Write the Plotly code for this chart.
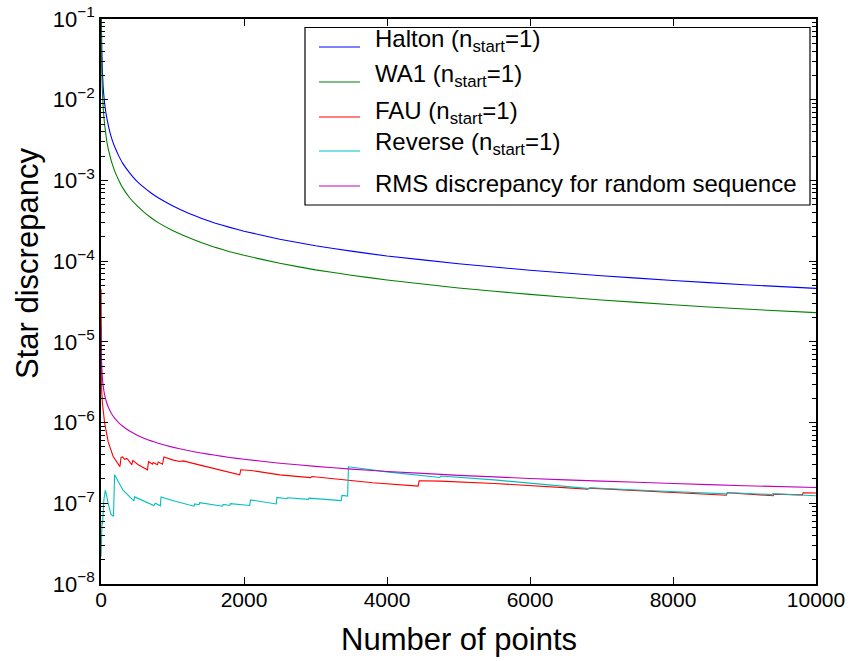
import plotly.graph_objects as go

# ---------------- data ----------------
n_smooth = [1, 2, 3, 5, 8, 12, 16, 20, 25, 30, 40, 50, 65, 80, 100, 120, 150,
            200, 250, 300, 400, 500, 600, 700, 800, 1000, 1200, 1400, 1600,
            1800, 2000, 2500, 3000, 3500, 4000, 5000, 6000, 7000, 8000, 9000,
            10000]

halton = [0.5, 0.3, 0.2, 0.1, 0.06, 0.04, 0.03, 0.022, 0.018, 0.0145, 0.0112,
          0.0092, 0.0072, 0.006, 0.0049, 0.0041, 0.0033, 0.0025, 0.002,
          0.00165, 0.00124, 0.00098, 8.2e-4, 7.0e-4, 6.1e-4, 4.85e-4, 4.0e-4,
          3.4e-4, 2.95e-4, 2.62e-4, 2.35e-4, 1.87e-4, 1.55e-4, 1.33e-4,
          1.16e-4, 9.3e-5, 7.7e-5, 6.6e-5, 5.75e-5, 5.1e-5, 4.6e-5]

wa1 = [0.3, 0.15, 0.1, 0.055, 0.033, 0.021, 0.016, 0.0125, 0.0100, 0.0082,
       0.0062, 0.0050, 0.0039, 0.0031, 0.0025, 0.0021, 0.00167, 0.00125,
       0.001, 8.2e-4, 6.1e-4, 4.9e-4, 4.05e-4, 3.45e-4, 3.0e-4, 2.4e-4,
       2.0e-4, 1.7e-4, 1.48e-4, 1.31e-4, 1.18e-4, 9.4e-5, 7.8e-5, 6.7e-5,
       5.85e-5, 4.65e-5, 3.87e-5, 3.3e-5, 2.88e-5, 2.55e-5, 2.3e-5]

rms_random = [1.57e-5, 1.11e-5, 9.06e-6, 7.02e-6, 5.55e-6, 4.53e-6, 3.93e-6,
              3.51e-6, 3.14e-6, 2.87e-6, 2.48e-6, 2.22e-6, 1.95e-6, 1.76e-6,
              1.57e-6, 1.43e-6, 1.28e-6, 1.11e-6, 9.93e-7, 9.06e-7, 7.85e-7,
              7.02e-7, 6.41e-7, 5.93e-7, 5.55e-7, 4.96e-7, 4.53e-7, 4.2e-7,
              3.93e-7, 3.7e-7, 3.51e-7, 3.14e-7, 2.87e-7, 2.65e-7, 2.48e-7,
              2.22e-7, 2.03e-7, 1.88e-7, 1.76e-7, 1.65e-7, 1.57e-7]

n_fau = [1, 2, 3, 5, 10, 20, 30, 50, 100, 170, 265, 280, 300, 330, 360, 380,
         430, 445, 520, 650, 665, 720, 730, 790, 800, 860, 880, 1000, 1100,
         1150, 1400, 1600, 1940, 1955, 2100, 2500, 2930, 2950, 3450, 3800,
         4435, 4450, 4750, 5500, 6810, 6830, 8745, 8760, 9400, 9410, 9810,
         9820, 10000]
fau = [4.5e-5, 1.6e-5, 7e-6, 3.6e-6, 2.4e-6, 1.75e-6, 1.4e-6, 1.0e-6, 5.8e-7,
       3.8e-7, 2.85e-7, 3.7e-7, 3.75e-7, 3.5e-7, 3.6e-7, 3.45e-7, 3.0e-7,
       3.4e-7, 3.0e-7, 2.6e-7, 3.3e-7, 3.05e-7, 3.2e-7, 3.0e-7, 3.25e-7,
       3.05e-7, 3.75e-7, 3.45e-7, 3.3e-7, 3.35e-7, 2.95e-7, 2.65e-7, 2.25e-7,
       2.6e-7, 2.55e-7, 2.25e-7, 2.08e-7, 2.15e-7, 1.95e-7, 1.8e-7, 1.63e-7,
       1.9e-7, 1.88e-7, 1.76e-7, 1.5e-7, 1.54e-7, 1.26e-7, 1.35e-7, 1.24e-7,
       1.3e-7, 1.27e-7, 1.35e-7, 1.34e-7]

n_rev = [1, 3, 6, 10, 15, 22, 30, 40, 60, 75, 100, 140, 175, 190, 308, 460,
         470, 520, 740, 760, 800, 830, 840, 1000, 1300, 1310, 1370, 1380,
         1700, 1710, 1800, 1810, 2080, 2090, 2450, 2460, 2600, 2610, 2900,
         2910, 3360, 3370, 3450, 3460, 4000, 4740, 4750, 5500, 6830, 6840,
         7800, 8750, 8760, 9380, 9390, 10000]
reverse = [2.2e-8, 2.2e-8, 3.5e-8, 3.0e-8, 6e-8, 5.5e-8, 9e-8, 1.1e-7, 1.45e-7,
           1.3e-7, 1.0e-7, 7.3e-8, 6.9e-8, 2.25e-7, 1.45e-7, 1.07e-7, 1.2e-7,
           1.15e-7, 9.4e-8, 1.0e-7, 9.5e-8, 9.3e-8, 1.2e-7, 1.08e-7, 9.2e-8,
           9.8e-8, 9.6e-8, 1.02e-7, 9.2e-8, 9.7e-8, 9.4e-8, 9.9e-8, 9.4e-8,
           1.1e-7, 9.8e-8, 1.18e-7, 1.14e-7, 1.17e-7, 1.12e-7, 1.16e-7, 1.08e-7,
           1.25e-7, 1.23e-7, 2.83e-7, 2.45e-7, 2.09e-7, 2.18e-7, 1.95e-7,
           1.52e-7, 1.56e-7, 1.42e-7, 1.31e-7, 1.36e-7, 1.28e-7, 1.31e-7, 1.24e-7]

x_ticks = [0, 2000, 4000, 6000, 8000, 10000]
y_exps = [-8, -7, -6, -5, -4, -3, -2, -1]

legend_labels = ["Halton (n<sub>start</sub>=1)", "WA1 (n<sub>start</sub>=1)",
                 "FAU (n<sub>start</sub>=1)", "Reverse (n<sub>start</sub>=1)",
                 "RMS discrepancy for random sequence"]
colors = ["#0000ff", "#008000", "#ff0000", "#00bfbf", "#bf00bf"]

# ---------------- figure ----------------
FONT = "Liberation Sans, Arial, sans-serif"
series = [(n_smooth, halton, True), (n_smooth, wa1, True),
          (n_fau, fau, False), (n_rev, reverse, False),
          (n_smooth, rms_random, True)]

fig = go.Figure()
for (xs, ys, smooth), c, name in zip(series, colors, legend_labels):
    line = dict(color=c, width=1.1)
    if smooth:
        line.update(shape="spline", smoothing=0.3)
    fig.add_trace(go.Scatter(x=xs, y=ys, mode="lines", name=name,
                             line=line, showlegend=False))

minor_vals = [m * 10.0 ** k for k in range(-8, -1) for m in range(2, 10)]

fig.update_layout(
    width=851, height=661,
    margin=dict(l=101, r=35, t=19, b=77, autoexpand=False),
    plot_bgcolor="white", paper_bgcolor="white",
    font=dict(family=FONT, size=21, color="black"),
    showlegend=False,
    xaxis=dict(range=[0, 10000], tickmode="array", tickvals=x_ticks,
               ticktext=[str(v) for v in x_ticks], automargin=False,
               ticks="inside", ticklen=7, tickwidth=1, tickcolor="black",
               mirror="allticks", showline=True, linewidth=1.5,
               linecolor="black", showgrid=False, zeroline=False,
               tickfont=dict(size=21), ticklabelstandoff=-4),
    yaxis=dict(type="log", range=[-8, -1], tickmode="array", automargin=False,
               tickvals=[10.0 ** e for e in y_exps],
               ticktext=["10<sup>\u2212%d</sup>" % (-e) for e in y_exps],
               ticks="inside", ticklen=7, tickwidth=1, tickcolor="black",
               mirror="allticks", showline=True, linewidth=1.5,
               linecolor="black", showgrid=False, zeroline=False,
               tickfont=dict(size=22),
               minor=dict(tickmode="array", tickvals=minor_vals,
                          ticks="inside", ticklen=4, tickwidth=1,
                          tickcolor="black", showgrid=False)),
)

# axis titles
fig.add_annotation(text="Number of points", xref="paper", yref="paper",
                   x=0.5, y=(584 - 639) / 565, xanchor="center", yanchor="middle",
                   showarrow=False, font=dict(size=31, family=FONT))
fig.add_annotation(text="Star discrepancy", xref="paper", yref="paper",
                   x=(27 - 101) / 715, y=(584 - 264) / 565, xanchor="center",
                   yanchor="middle", textangle=-90, showarrow=False,
                   font=dict(size=31, family=FONT))

# manual legend
def px(X):
    return (X - 101) / 715

def py(Y):
    return (584 - Y) / 565

fig.add_shape(type="rect", xref="paper", yref="paper",
              x0=px(305), x1=px(810), y0=py(205), y1=py(27.5),
              line=dict(color="black", width=1.2), fillcolor="white")
line_y = [47, 82, 117, 151, 186]
text_y = [40, 76, 112, 143, 183]
for c, lab, ly, ty in zip(colors, legend_labels, line_y, text_y):
    fig.add_shape(type="line", xref="paper", yref="paper",
                  x0=px(319), x1=px(360), y0=py(ly), y1=py(ly),
                  line=dict(color=c, width=1.2))
    fig.add_annotation(text=lab, xref="paper", yref="paper",
                       x=px(373), y=py(ty), xanchor="left", yanchor="middle",
                       showarrow=False, font=dict(size=24, family=FONT))

fig.write_html("out.html")
